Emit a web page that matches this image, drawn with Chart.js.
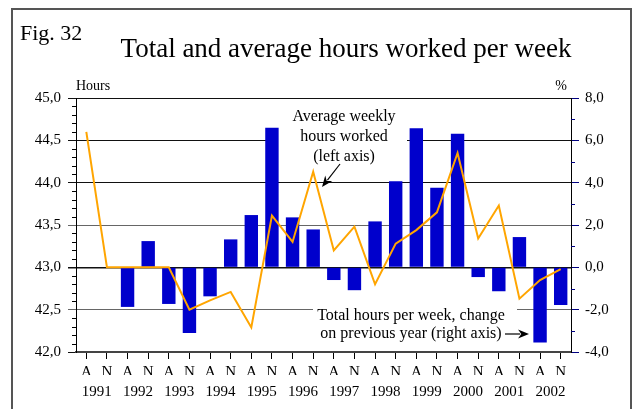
<!DOCTYPE html>
<html>
<head>
<meta charset="utf-8">
<script src="https://cdn.jsdelivr.net/npm/chart.js@4.4.1/dist/chart.umd.min.js"></script>
<style>
  body { margin: 0; background: #fff; }
  canvas { display: block; }
</style>
</head>
<body>
<canvas id="hoursChart" width="637" height="409"></canvas>
<script>
// April / November observations, 1991-2002
const periods = ["A","N","A","N","A","N","A","N","A","N","A","N",
                 "A","N","A","N","A","N","A","N","A","N","A","N"];
const years = ["1991","1992","1993","1994","1995","1996",
               "1997","1998","1999","2000","2001","2002"];

// average weekly hours worked (left axis)
const avgHours = [44.60, 43.00, 43.00, 43.00, 43.00, 42.50, 42.61, 42.71,
                  42.29, 43.61, 43.30, 44.13, 43.20, 43.48, 42.80, 43.28,
                  43.44, 43.65, 44.35, 43.34, 43.73, 42.63, 42.85, 42.98];

// total hours per week, % change on previous year (right axis)
const totalChange = [null, null, -1.87, 1.24, -1.73, -3.10, -1.37, 1.32,
                     2.47, 6.60, 2.36, 1.79, -0.60, -1.08, 2.17, 4.07,
                     6.57, 3.76, 6.31, -0.46, -1.13, 1.43, -3.55, -1.78];

const leftTicks = [42.0, 42.5, 43.0, 43.5, 44.0, 44.5, 45.0];
const rightTicks = [-4, -2, 0, 2, 4, 6, 8];

const serif = "'Liberation Serif', 'Times New Roman', serif";
Chart.defaults.font.family = serif;
Chart.defaults.font.size = 15;
Chart.defaults.color = "#000";

const comma = v => Number(v).toFixed(1).replace(".", ",");

function arrow(ctx, x1, y1, x2, y2) {
    const a = Math.atan2(y2 - y1, x2 - x1);
    const len = 11, w = 4.5;
    ctx.beginPath();
    ctx.moveTo(x1, y1);
    ctx.lineTo(x2 - Math.cos(a) * len * 0.8, y2 - Math.sin(a) * len * 0.8);
    ctx.lineWidth = 1.2;
    ctx.strokeStyle = "#000";
    ctx.stroke();
    ctx.beginPath();
    ctx.moveTo(x2, y2);
    ctx.lineTo(x2 - Math.cos(a) * len + Math.sin(a) * w, y2 - Math.sin(a) * len - Math.cos(a) * w);
    ctx.lineTo(x2 - Math.cos(a) * len * 0.7, y2 - Math.sin(a) * len * 0.7);
    ctx.lineTo(x2 - Math.cos(a) * len - Math.sin(a) * w, y2 - Math.sin(a) * len + Math.cos(a) * w);
    ctx.closePath();
    ctx.fillStyle = "#000";
    ctx.fill();
}

const decorations = {
    id: "decorations",
    beforeDraw(chart) {
        const ctx = chart.ctx;
        ctx.save();
        ctx.fillStyle = "#fff";
        ctx.fillRect(0, 0, chart.width, chart.height);
        ctx.restore();
    },
    beforeDatasetsDraw(chart) {
        const ctx = chart.ctx;
        ctx.save();
        // white boxes behind the notes
        ctx.fillStyle = "#fff";
        ctx.fillRect(278, 106, 129, 62);
        ctx.fillRect(313, 305, 204, 40);

        // minor ticks
        const yl = chart.scales.y, yr = chart.scales.y1;
        ctx.lineWidth = 1;
        ctx.strokeStyle = "#000";
        for (let i = 1; i < 30; i++) {
            if (i % 5 === 0) continue;
            const py = Math.round(yl.getPixelForValue(42 + i / 10)) + 0.5;
            ctx.beginPath();
            ctx.moveTo(yl.right - 4, py);
            ctx.lineTo(yl.right, py);
            ctx.stroke();
        }
        ctx.strokeStyle = "#000080";
        for (let v = -3; v < 8; v += 2) {
            const py = Math.round(yr.getPixelForValue(v)) + 0.5;
            ctx.beginPath();
            ctx.moveTo(yr.left, py);
            ctx.lineTo(yr.left + 4, py);
            ctx.stroke();
        }
        ctx.restore();
    },
    afterDraw(chart) {
        const ctx = chart.ctx;
        ctx.save();
        ctx.fillStyle = "#000";
        ctx.textBaseline = "alphabetic";

        ctx.font = "22px " + serif;
        ctx.textAlign = "left";
        ctx.fillText("Fig. 32", 20, 40);

        ctx.font = "27px " + serif;
        ctx.textAlign = "center";
        ctx.fillText("Total and average hours worked per week", 346, 57);

        ctx.font = "14px " + serif;
        ctx.textAlign = "left";
        ctx.fillText("Hours", 76, 90);
        ctx.textAlign = "center";
        ctx.fillText("%", 561, 90);

        ctx.font = "16px " + serif;
        ctx.textBaseline = "middle";
        ctx.fillText("Average weekly", 344, 117);
        ctx.fillText("hours worked", 344, 137);
        ctx.fillText("(left axis)", 344, 157);
        ctx.fillText("Total hours per week, change", 411, 316);
        ctx.fillText("on previous year (right axis)", 411, 334);

        arrow(ctx, 340, 164, 322, 187);
        arrow(ctx, 505, 334, 529, 334);

        // outer frame
        ctx.strokeStyle = "#555";
        ctx.lineWidth = 2;
        ctx.beginPath();
        ctx.moveTo(12, 409);
        ctx.lineTo(12, 9);
        ctx.lineTo(631, 9);
        ctx.lineTo(631, 409);
        ctx.stroke();
        ctx.restore();
    }
};

new Chart(document.getElementById("hoursChart"), {
    data: {
        labels: periods,
        datasets: [
            {
                type: "line",
                label: "Average weekly hours worked",
                data: avgHours,
                yAxisID: "y",
                borderColor: "#FFA500",
                borderWidth: 2,
                pointRadius: 0,
                tension: 0,
                order: 1
            },
            {
                type: "bar",
                label: "Total hours per week, change on previous year",
                data: totalChange,
                yAxisID: "y1",
                backgroundColor: "#0000CC",
                barPercentage: 0.65,
                categoryPercentage: 1.0,
                order: 2
            }
        ]
    },
    options: {
        responsive: false,
        animation: false,
        layout: { padding: { top: 98, left: 0, right: 0, bottom: 0 } },
        plugins: { legend: { display: false }, tooltip: { enabled: false } },
        scales: {
            x: {
                type: "category",
                position: "bottom",
                weight: 0,
                offset: true,
                grid: { display: true, drawOnChartArea: false, offset: false, tickLength: 7, tickColor: "#000" },
                border: { display: true, color: "#444", width: 2 },
                ticks: { autoSkip: false, maxRotation: 0, padding: 4 },
                afterFit: s => { s.height = 23; }
            },
            x2: {
                type: "category",
                position: "bottom",
                weight: 1,
                labels: years,
                offset: true,
                grid: { display: false },
                border: { display: false },
                ticks: { autoSkip: false, maxRotation: 0, padding: 0 },
                afterFit: s => { s.height = 34; }
            },
            y: {
                type: "linear",
                position: "left",
                min: 42,
                max: 45,
                afterBuildTicks: s => { s.ticks = leftTicks.map(v => ({ value: v })); },
                ticks: { callback: v => comma(v), padding: 7 },
                grid: {
                    tickLength: 8,
                    color: c => (c.tick && (c.tick.value === 43.5 || c.tick.value === 42.5)) ? "#666" : "#111",
                    lineWidth: c => (c.tick && c.tick.value === 43) ? 1.5 : 1
                },
                border: { color: "#000", width: 1 },
                afterFit: s => { s.width = 76; }
            },
            y1: {
                type: "linear",
                position: "right",
                min: -4,
                max: 8,
                afterBuildTicks: s => { s.ticks = rightTicks.map(v => ({ value: v })); },
                ticks: { callback: v => comma(v), padding: 6 },
                grid: { drawOnChartArea: false, tickLength: 8, tickColor: "#000080" },
                border: { color: "#000", width: 1 },
                afterFit: s => { s.width = 66; }
            }
        }
    },
    plugins: [decorations]
});
</script>
</body>
</html>
